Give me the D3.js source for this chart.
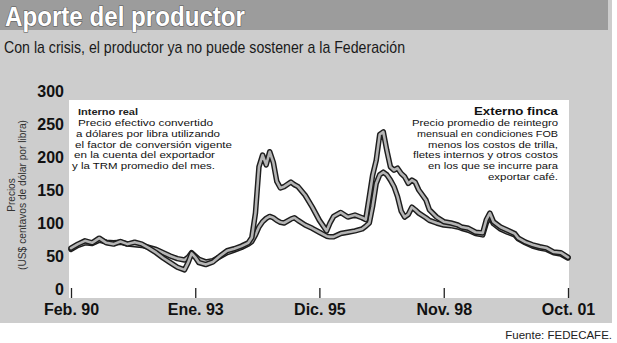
<!DOCTYPE html>
<html>
<head>
<meta charset="utf-8">
<script src="https://cdn.jsdelivr.net/npm/d3@7"></script>
<style>
  html, body { margin: 0; padding: 0; background: #ffffff; }
  svg { display: block; }
</style>
</head>
<body>
<svg id="chart" width="617" height="343"></svg>
<script>
// Precios del café al productor, US$ centavos de dólar por libra
const fechas = [
  "1990-02","1990-04","1990-06","1990-08","1990-10","1990-12",
  "1991-02","1991-04","1991-06","1991-08","1991-10","1991-12",
  "1992-02","1992-04","1992-06","1992-08","1992-10","1992-11","1992-12",
  "1993-01","1993-02","1993-04","1993-06","1993-08","1993-10","1993-12",
  "1994-02","1994-04","1994-05","1994-06","1994-07","1994-08","1994-09","1994-10","1994-11","1994-12",
  "1995-01","1995-02","1995-04","1995-05","1995-06","1995-08","1995-10","1995-12",
  "1996-02","1996-03","1996-04","1996-06","1996-08","1996-10","1996-12",
  "1997-01","1997-02","1997-03","1997-04","1997-05","1997-06","1997-07","1997-08","1997-09","1997-10","1997-11","1997-12",
  "1998-01","1998-02","1998-03","1998-04","1998-06","1998-07","1998-09","1998-11",
  "1999-01","1999-03","1999-04","1999-06","1999-08","1999-10","1999-11","1999-12",
  "2000-01","2000-03","2000-05","2000-07","2000-08","2000-10","2000-12",
  "2001-02","2001-04","2001-06","2001-08","2001-10"
];

const externo = [
  62, 68, 73, 70, 77, 70,
  68, 72, 68, 71, 68, 62,
  55, 47, 40, 33, 29, 40, 54,
  48, 40, 37, 41, 50, 58, 61,
  65, 70, 78, 115, 185, 203, 188, 208, 192, 163,
  153, 155, 162, 158, 155, 142, 124, 104,
  88, 100, 110, 116, 109, 112, 108,
  105, 140, 172, 195, 234, 238, 210, 185, 180, 183, 175, 170,
  160, 165, 162, 150, 135, 120, 109, 102,
  100, 97, 94, 92, 86, 85, 105, 115,
  102, 94, 89, 84, 77, 71, 67,
  64, 62, 56, 55, 48
];

const interno = [
  60, 66, 70, 69, 74, 71,
  70, 71, 68, 67, 66, 63,
  60, 55, 50, 46, 44, 48, 55,
  50, 45, 41, 43, 49, 55, 59,
  63, 68, 72, 82, 94, 102, 107, 110, 108, 104,
  101, 100, 106, 108, 104, 97, 92, 86,
  80, 79, 79, 84, 86, 88, 91,
  95, 100, 125, 160, 173, 177, 173, 165, 155, 140, 118, 109,
  113, 124, 120, 115, 108, 104, 100, 97,
  96, 94, 92, 89, 84, 82, 100, 110,
  99, 91, 86, 82, 76, 70, 65,
  62, 60, 55, 53, 47
];

const ticksX = ["1990-02", "1993-01", "1995-12", "1998-11", "2001-10"];
const etiquetasX = ["Feb. 90", "Ene. 93", "Dic. 95", "Nov. 98", "Oct. 01"];
const ticksY = [0, 50, 100, 150, 200, 250, 300];

const parse = d3.timeParse("%Y-%m");
const svg = d3.select("#chart");

const narrow = "'Liberation Sans Narrow', 'Liberation Sans', Arial, sans-serif";
const sans = "'Liberation Sans', Arial, sans-serif";

// Fondo tramado gris y banda del título
svg.append("rect").attr("x", 0).attr("y", 0).attr("width", 612).attr("height", 323).attr("fill", "#cdcdcd");
svg.append("rect").attr("x", 0).attr("y", 0).attr("width", 608).attr("height", 30).attr("fill", "#9c9c9c");

svg.append("text")
  .attr("x", 5).attr("y", 26)
  .attr("font-family", narrow).attr("font-weight", "bold").attr("font-size", 28)
  .attr("fill", "#ffffff").attr("stroke", "#555").attr("stroke-width", 1.2).attr("paint-order", "stroke")
  .attr("textLength", 240).attr("lengthAdjust", "spacingAndGlyphs")
  .text("Aporte del productor");

svg.append("text")
  .attr("x", 4).attr("y", 53)
  .attr("font-family", narrow).attr("font-size", 17).attr("fill", "#1a1a1a")
  .attr("textLength", 401).attr("lengthAdjust", "spacingAndGlyphs")
  .text("Con la crisis, el productor ya no puede sostener a la Federación");

// Área blanca del gráfico
const box = { x0: 69, x1: 569, y0: 100, y1: 298 };
svg.append("rect").attr("x", box.x0).attr("y", box.y0)
  .attr("width", box.x1 - box.x0).attr("height", box.y1 - box.y0).attr("fill", "#ffffff");

const x = d3.scaleTime().domain([parse("1990-02"), parse("2001-10")]).range([71, 568]);
const y = d3.scaleLinear().domain([0, 300]).range([289, 91]);

// Eje X
const ax = svg.append("g").attr("transform", `translate(0,${box.y1})`)
  .call(d3.axisBottom(x)
    .tickValues(ticksX.map(parse))
    .tickSize(-10).tickPadding(6)
    .tickFormat((d, i) => etiquetasX[i]));
ax.select(".domain").remove();
ax.selectAll(".tick line").attr("stroke", "#222").attr("stroke-width", 1.3);
ax.selectAll(".tick text")
  .attr("font-family", sans).attr("font-weight", "bold").attr("font-size", 16).attr("fill", "#111");

// Eje Y
const ay = svg.append("g").attr("transform", "translate(64,0)")
  .call(d3.axisLeft(y).tickValues(ticksY).tickSize(0).tickPadding(0));
ay.select(".domain").remove();
ay.selectAll(".tick text")
  .attr("font-family", sans).attr("font-weight", "bold").attr("font-size", 16).attr("fill", "#111");

// Título del eje Y
const yt = svg.append("g").attr("transform", "translate(0,195) rotate(-90)");
yt.append("text").attr("x", 0).attr("y", 15).attr("text-anchor", "middle")
  .attr("font-family", narrow).attr("font-size", 10).attr("fill", "#333").text("Precios");
yt.append("text").attr("x", 0).attr("y", 26).attr("text-anchor", "middle")
  .attr("font-family", narrow).attr("font-size", 10).attr("fill", "#333")
  .attr("textLength", 150).attr("lengthAdjust", "spacingAndGlyphs")
  .text("(US$ centavos de dólar por libra)");

// Notas
const notaIzq = [
  "Precio efectivo convertido",
  "a dólares por libra utilizando",
  "el factor de conversión vigente",
  "en la cuenta del exportador",
  "y la TRM promedio del mes."
];
const anchoIzq = [135, 144, 157, 141, 143];
const xIzq = [78, 76, 75, 74, 72];
const notaDer = [
  "Precio promedio de reintegro",
  "mensual en condiciones FOB",
  "menos los costos de trilla,",
  "fletes internos y otros costos",
  "en los que se incurre para",
  "exportar café."
];
const anchoDer = [146, 141, 130, 145, 130, 70];
const baseNotas = [126, 136.8, 147.6, 158.4, 169.2, 180];

svg.append("text").attr("x", 78).attr("y", 114.5)
  .attr("font-family", sans).attr("font-weight", "bold").attr("font-size", 9.5).attr("fill", "#222")
  .attr("textLength", 60).attr("lengthAdjust", "spacingAndGlyphs").text("Interno real");
notaIzq.forEach((t, i) => {
  svg.append("text").attr("x", xIzq[i]).attr("y", baseNotas[i])
    .attr("font-family", narrow).attr("font-size", 9.5).attr("fill", "#111")
    .attr("textLength", anchoIzq[i]).attr("lengthAdjust", "spacingAndGlyphs").text(t);
});

svg.append("text").attr("x", 558).attr("y", 114.5).attr("text-anchor", "end")
  .attr("font-family", sans).attr("font-weight", "bold").attr("font-size", 10).attr("fill", "#111")
  .attr("textLength", 84).attr("lengthAdjust", "spacingAndGlyphs")
  .text("Externo finca");
notaDer.forEach((t, i) => {
  svg.append("text").attr("x", 558).attr("y", baseNotas[i]).attr("text-anchor", "end")
    .attr("font-family", narrow).attr("font-size", 9.5).attr("fill", "#111")
    .attr("textLength", anchoDer[i]).attr("lengthAdjust", "spacingAndGlyphs").text(t);
});

// Series: trazo grueso con borde oscuro y relleno gris
const line = d3.line()
  .x((d, i) => x(parse(fechas[i])))
  .y(d => y(d))
  .curve(d3.curveLinear);

[interno, externo].forEach(serie => {
  svg.append("path").datum(serie).attr("d", line)
    .attr("fill", "none").attr("stroke", "#1e1e1e").attr("stroke-width", 5.5)
    .attr("stroke-linejoin", "round").attr("stroke-linecap", "round");
  svg.append("path").datum(serie).attr("d", line)
    .attr("fill", "none").attr("stroke", "#b4b4b4").attr("stroke-width", 2.6)
    .attr("stroke-linejoin", "round").attr("stroke-linecap", "round");
});

// Fuente
svg.append("text").attr("x", 612).attr("y", 339).attr("text-anchor", "end")
  .attr("font-family", narrow).attr("font-size", 11.5).attr("fill", "#222")
  .text("Fuente: FEDECAFE.");
</script>
</body>
</html>
